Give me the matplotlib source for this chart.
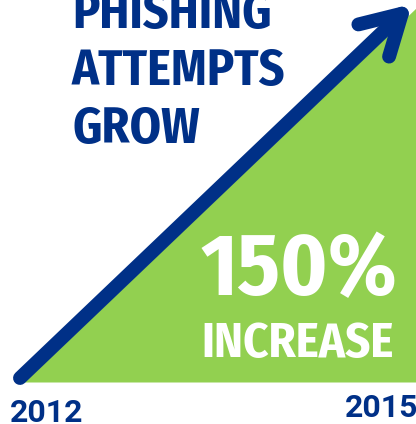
import matplotlib
matplotlib.use("Agg")
import matplotlib.pyplot as plt
from matplotlib.transforms import offset_copy

# data
years = [2012, 2015]
growth = [0, 150]          # % increase relative to 2012
title_lines = ["PHISHING", "ATTEMPTS", "GROW"]
big_label = "150%"
sub_label = "INCREASE"

BLUE = "#003087"
GREEN = "#92D050"
COND = ["Fira Sans Condensed", "Roboto Condensed", "DejaVu Sans"]
YEARFONT = ["Roboto", "DejaVu Sans"]

W, H = 416, 424
fig = plt.figure(figsize=(W / 100, H / 100), dpi=100)
fig.patch.set_facecolor("white")

# axes placed so 2012/0 sits at the bottom-left corner of the triangle
ax = fig.add_axes([24 / W, (H - 382) / H, 392 / W, (382 - 8) / H])
ax.set_xlim(years[0], years[-1])
ax.set_ylim(0, growth[-1])
ax.axis("off")

ax.fill_between(years, 0, growth, color=GREEN, lw=0, clip_on=False)

# arrow sits just above the hypotenuse
tr = offset_copy(ax.transData, fig=fig, x=-4, y=4, units="dots")
ax.annotate("", xy=(years[-1], growth[-1]), xytext=(years[0], growth[0]),
            xycoords=tr, textcoords=tr, annotation_clip=False,
            arrowprops=dict(arrowstyle="->,head_length=2.8,head_width=1.6",
                            mutation_scale=10, lw=10, color=BLUE,
                            capstyle="round", joinstyle="round",
                            shrinkA=0, shrinkB=0))

# title, top-left
for i, line in enumerate(title_lines):
    fig.text(72 / W, 1 - (28 + 57.5 * i) / H, line, color=BLUE,
             family=COND, weight="bold", fontsize=36,
             ha="left", va="baseline")

# labels inside the triangle
fig.text(397 / W, 1 - 295 / H, big_label, color="white", family=COND,
         weight="bold", fontsize=63, ha="right", va="baseline")
fig.text(394 / W, 1 - 357 / H, sub_label, color="white", family=COND,
         weight="bold", fontsize=35, ha="right", va="baseline")

# year labels under the ends
ax.annotate(str(years[0]), xy=(years[0], 0), xytext=(-10, -29),
            textcoords="offset points", color=BLUE, weight="bold",
            fontsize=23, ha="left", va="baseline",
            family=YEARFONT, annotation_clip=False)
ax.annotate(str(years[-1]), xy=(years[-1], 0), xytext=(2, -25.5),
            textcoords="offset points", color=BLUE, weight="bold",
            fontsize=23, ha="right", va="baseline",
            family=YEARFONT, annotation_clip=False)

fig.savefig("out.png", dpi=100)
